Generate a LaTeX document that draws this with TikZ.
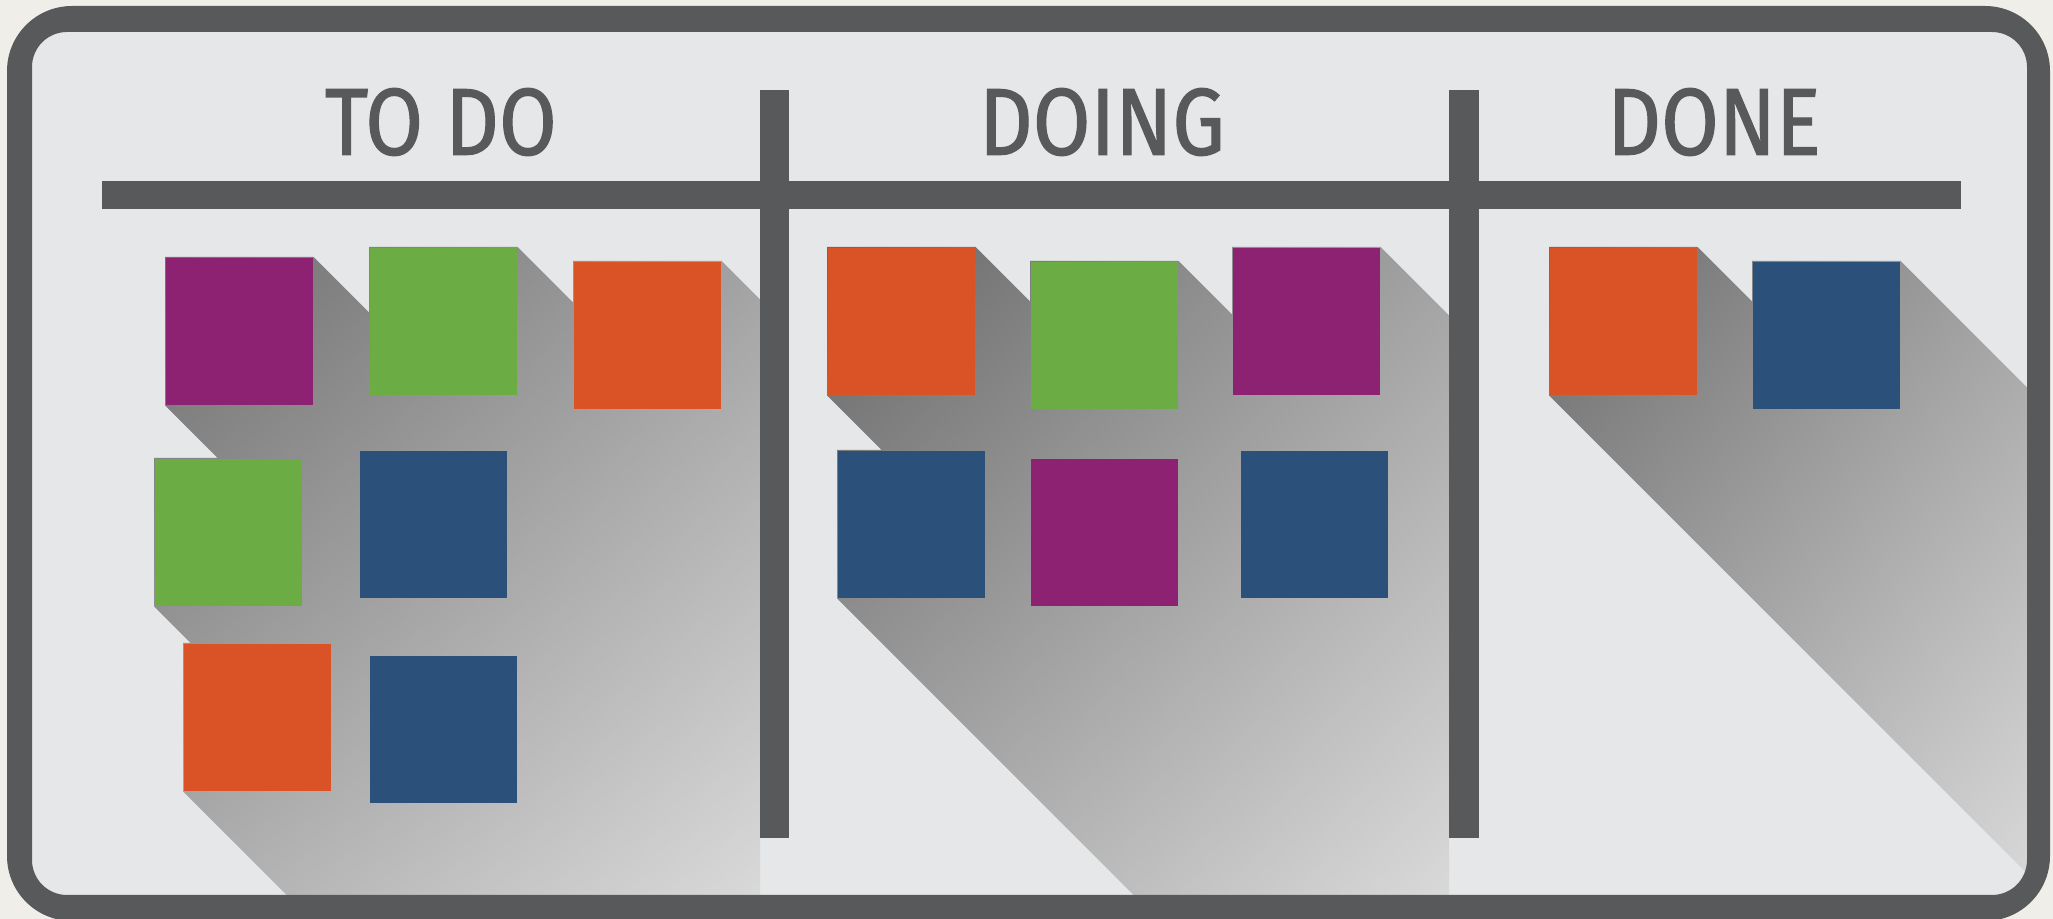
\documentclass[tikz,border=0pt]{standalone}
\usepackage{fontspec}
\newfontfamily\boardfont[FakeStretch=0.88,FakeBold=1.2]{Fira Sans}
\usetikzlibrary{backgrounds,shadings}
\definecolor{framegray}{HTML}{58595B}
\definecolor{boardgray}{HTML}{E6E7E8}
\definecolor{paper}{HTML}{F0EEE8}
\definecolor{notepurple}{HTML}{8C2271}
\definecolor{notegreen}{HTML}{6BAD44}
\definecolor{noteorange}{HTML}{DA5326}
\definecolor{noteblue}{HTML}{2B5079}

\begin{document}
\begin{tikzpicture}[x=0.01cm, y=-0.01cm,
  note/.style={minimum size=1.47cm, inner sep=0pt, anchor=north west},
  head/.style={font=\boardfont\fontsize{27pt}{30pt}\selectfont, text=framegray, inner sep=0pt},
  longshadow/.style={upper left=black!62, upper right=black!38, lower left=black!36, lower right=black!15}]
  \useasboundingbox (0,0) rectangle (2053,919);
  % notes, to do
  \node[note,fill=notepurple](td1) at (165,257){};
  \node[note,fill=notegreen](td2) at (369,247){};
  \node[note,fill=noteorange](td3) at (573,261){};
  \node[note,fill=notegreen](td4) at (154,458){};
  \node[note,fill=noteblue](td5) at (359,450){};
  \node[note,fill=noteorange](td6) at (183,643){};
  \node[note,fill=noteblue](td7) at (369,655){};
  % notes, doing
  \node[note,fill=noteorange](dg1) at (827,247){};
  \node[note,fill=notegreen](dg2) at (1030,261){};
  \node[note,fill=notepurple](dg3) at (1232,247){};
  \node[note,fill=noteblue](dg4) at (837,450){};
  \node[note,fill=notepurple](dg5) at (1030,458){};
  \node[note,fill=noteblue](dg6) at (1240,450){};
  % notes, done
  \node[note,fill=noteorange](dn1) at (1549,247){};
  \node[note,fill=noteblue](dn2) at (1752,261){};
  % board and long shadows
  \begin{scope}[on background layer]
    \fill[paper] (0,0) rectangle (2053,919);
    \fill[boardgray] (32,32) rectangle (2027,895);
    \begin{scope}
      \clip (32,209) rectangle (760,895);
      \clip foreach \i in {1,...,7} {(td\i.north west) -- (td\i.north east) -- ([shift={(700,700)}]td\i.north east)
        -- ([shift={(700,700)}]td\i.south west) -- (td\i.south west) -- cycle};
      \shade[longshadow] (32,209) rectangle (760,895);
    \end{scope}
    \begin{scope}
      \clip (789,209) rectangle (1449,895);
      \clip foreach \i in {1,...,6} {(dg\i.north west) -- (dg\i.north east) -- ([shift={(700,700)}]dg\i.north east)
        -- ([shift={(700,700)}]dg\i.south west) -- (dg\i.south west) -- cycle};
      \shade[longshadow] (789,209) rectangle (1449,895);
    \end{scope}
    \begin{scope}
      \clip (1479,209) rectangle (2027,895);
      \clip foreach \i in {1,2} {(dn\i.north west) -- (dn\i.north east) -- ([shift={(700,700)}]dn\i.north east)
        -- ([shift={(700,700)}]dn\i.south west) -- (dn\i.south west) -- cycle};
      \shade[longshadow] (1479,209) rectangle (2027,895);
    \end{scope}
  \end{scope}
  % rails and frame
  \fill[framegray] (102,181) rectangle (1961,209);
  \fill[framegray] (760,90) rectangle (789,838);
  \fill[framegray] (1449,90) rectangle (1479,838);
  \fill[framegray, even odd rule, rounded corners=0.65cm] (7,6) rectangle (2050,921)
    [rounded corners=0.35cm] (32,32) rectangle (2027,895);
  % column titles
  \node[head](todo) at (441,122){TO DO};
  \node[head](doing) at (1102,122){DOING};
  \node[head](done) at (1714,122){DONE};
\end{tikzpicture}
\end{document}
